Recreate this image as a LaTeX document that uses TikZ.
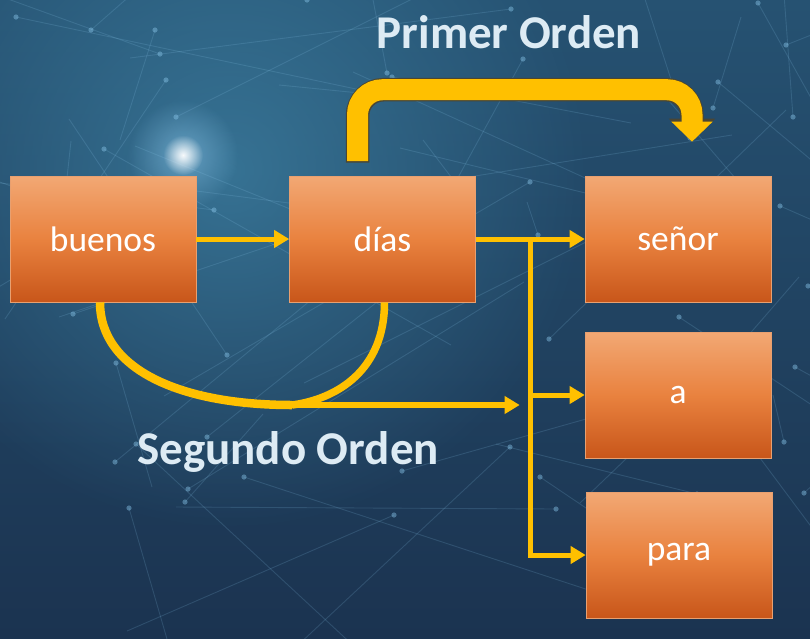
\documentclass[tikz,border=0pt]{standalone}
\usepackage{fontspec}
\setmainfont{Carlito}
\usetikzlibrary{arrows.meta,calc,fadings}
\definecolor{bgtop}{HTML}{265272}
\definecolor{bgbot}{HTML}{1B3350}
\definecolor{bgglow}{HTML}{3F84A6}
\definecolor{gold}{HTML}{FFC000}
\definecolor{golddark}{HTML}{4A4634}
\definecolor{boxtop}{HTML}{F2A874}
\definecolor{boxmid}{HTML}{E9823F}
\definecolor{boxbot}{HTML}{C8561A}
\definecolor{boxedge}{HTML}{E8A070}
\definecolor{labelc}{HTML}{DDEBF4}
\definecolor{netc}{HTML}{86C2E6}
\tikzfading[name=softglow, inner color=transparent!0, outer color=transparent!100]
\begin{document}
\begin{tikzpicture}[x=1pt,y=-1pt,
  wordbox/.style={rectangle, minimum width=186pt, minimum height=126pt, inner sep=0pt,
    top color=boxtop, bottom color=boxbot, middle color=boxmid,
    draw=boxedge, line width=0.6pt, text=white, font=\fontsize{35.5}{40}\selectfont},
  ordlabel/.style={text=labelc, font=\fontsize{47}{52}\selectfont\bfseries, inner sep=0pt},
  thinarrow/.style={draw=gold, line width=5pt, -{Triangle[length=15pt,width=17pt]}},
  thinline/.style={draw=gold, line width=5pt},
  arcline/.style={draw=gold, line width=8.5pt, line cap=butt},
  bigout/.style={draw=golddark, line width=23.5pt, rounded corners=26pt, -{Triangle[length=23pt,width=45pt]}},
  bigin/.style={draw=gold, line width=21pt, rounded corners=25pt, -{Triangle[length=20pt,width=40pt]}}
]
\useasboundingbox (0,0) rectangle (810,638);
% background
\fill[top color=bgtop, bottom color=bgbot] (0,0) rectangle (810,638);
\begin{scope}
\clip (0,0) rectangle (810,638);
\fill[bgglow, opacity=0.7, path fading=softglow] (230,170) circle (360);
\pgfmathsetseed{42}
\foreach \k in {1,...,60}{
  \pgfmathsetmacro{\xa}{random(0,810)}
  \pgfmathsetmacro{\ya}{random(0,520)}
  \pgfmathsetmacro{\xb}{\xa+random(-450,450)}
  \pgfmathsetmacro{\yb}{\ya+random(-260,260)}
  \draw[netc, opacity=0.18, line width=0.9pt] (\xa,\ya) -- (\xb,\yb);
  \fill[netc, opacity=0.45] (\xa,\ya) circle (2.6);
}
\fill[netc, opacity=0.6, path fading=softglow] (183,155) circle (55);
\fill[white, opacity=0.95, path fading=softglow] (183,155) circle (20);
\end{scope}

% boxes
\node[wordbox] (buenos) at (103,239) {buenos};
\node[wordbox] (dias)   at (382.5,239) {días};
\node[wordbox] (senor)  at (678,239) {señor};
\node[wordbox] (a)      at (678,395) {a};
\node[wordbox] (para)   at (679,555) {para};

% labels
\node[ordlabel] (primer)  at (509,32) {Primer Orden};
\node[ordlabel] (segundo) at (288,452) {Segundo Orden};

% first order arrow
\coordinate (p1) at ($(dias.north)+(-25,-13)$);
\coordinate (p2) at ($(senor.north)+(14,-34)$);
\draw[bigout] (p1) |- ($(p2)+(0,-52)$) -- (p2);
\draw[bigin]  ($(p1)+(0,-1.5)$) |- ($(p2)+(0,-52)$) -- (p2);

% direct connections
\draw[thinarrow] (buenos) -- (dias);
\draw[thinarrow] (dias.east) -- (senor.west);
\coordinate (J) at ($(dias.east)!0.5!(senor.west)$);
\draw[thinline, line cap=rect] (J) -- (J |- para.west);
\draw[thinarrow] (J |- a.west) -- (a.west);
\draw[thinarrow] ([xshift=-2.5pt]J |- para.west) -- (para.west);

% second order
\coordinate (sjoin) at (292,405);
\coordinate (s2end) at ($(a.west)+(-65,10)$);
\draw[arcline] ([xshift=-3pt]buenos.south) .. controls +(0,68) and +(-110,0) .. (sjoin);
\draw[arcline, line width=7.5pt] ([xshift=2pt]dias.south) .. controls +(0,68) and +(45,-6) .. (sjoin);
\draw[thinarrow, line width=6pt] (sjoin) -- (s2end);
\end{tikzpicture}
\end{document}
